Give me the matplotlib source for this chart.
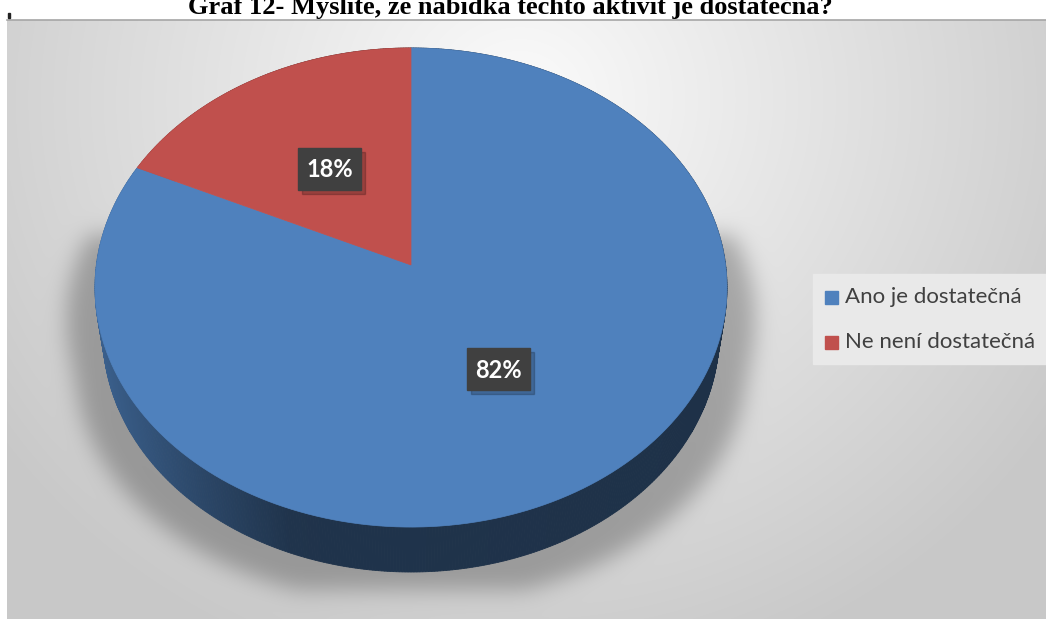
import numpy as np
import matplotlib
matplotlib.use("Agg")
import matplotlib.pyplot as plt
from matplotlib.patches import Polygon, Rectangle
from matplotlib.path import Path

# data
categories = ["Ano je dostatečná", "Ne není dostatečná"]
values = [82, 18]
colors = ["#4F81BD", "#C0504D"]
title = "Graf 12- Myslíte, že nabídka těchto aktivit je dostatečná?"

W, H = 1046, 619
fig = plt.figure(figsize=(W / 100, H / 100), dpi=100)
ax = fig.add_axes([0, 0, 1, 1])
ax.set_xlim(0, W)
ax.set_ylim(H, 0)
ax.axis("off")

# perspective projection of the pie disc (pixel space)
x0, y0 = 411, 265
f, L, th = 2196.0, 6.98, np.radians(49)
thick = 0.235


def proj(u, v, z=0.0):
    d = L + v * np.cos(th) - z * np.sin(th)
    return x0 + f * u / d, y0 - f * (v * np.sin(th) + z * np.cos(th)) / d


# background gradient + shadow
frame_top = 20
yy, xx = np.mgrid[0:H, 0:W] + 0.5
r = np.sqrt(((xx - 520) / 640) ** 2 + ((yy - 100) / 600) ** 2)
bg = 0.985 - 0.2 * np.clip(r, 0, 1)

t = np.linspace(0, 2 * np.pi, 361)
mask = np.zeros((H, W))
grid = np.column_stack([xx.ravel(), yy.ravel()])
for z in np.linspace(0, -thick, 6):
    px, py = proj(np.cos(t), np.sin(t), z)
    sx = x0 + (px - x0) * 1.09
    sy = py + 32
    m = Path(np.column_stack([sx, sy])).contains_points(grid).reshape(H, W)
    mask = np.maximum(mask, m)
mask[(yy < 235) | (yy > 590)] = 0


def gauss_mat(n, s):
    i = np.arange(n)
    g = np.exp(-((i[:, None] - i[None, :]) ** 2) / (2 * s * s))
    return g / g.sum(axis=1, keepdims=True)


shadow = gauss_mat(H, 11) @ mask @ gauss_mat(W, 11).T
bg = bg * (1 - 0.27 * shadow)
bg[:frame_top, :] = 1.0
bg[:, :7] = 1.0
img = np.dstack([bg, bg, bg])
ax.imshow(img, extent=(0, W, H, 0), interpolation="bilinear", zorder=0)
ax.plot([7, W], [frame_top, frame_top], color="#a6a6a6", lw=1.2, zorder=1)
ax.add_patch(Rectangle((8, 13), 2, 5, color="#222222", zorder=1))

# slice angles (start at 12 o'clock, clockwise)
fracs = np.array(values) / sum(values)
starts = 90 - 360 * np.concatenate([[0], np.cumsum(fracs)[:-1]])
ends = starts - 360 * fracs

# side wall
tt = np.linspace(0, 2 * np.pi, 721)
segs = []
for a0, a1 in zip(tt[:-1], tt[1:]):
    am = (a0 + a1) / 2
    deg = np.degrees(am)
    idx = 0
    for i in range(len(values)):
        lo, hi = ends[i], starts[i]
        if (deg - lo) % 360 <= hi - lo:
            idx = i
    ux, vy = np.cos([a0, a1]), np.sin([a0, a1])
    tx, ty = proj(ux, vy, 0)
    bx, by = proj(ux, vy, -thick)
    shade = np.interp(np.cos(am), [-1, -0.35, 1], [0.76, 0.40, 0.38])
    rgb = np.array(matplotlib.colors.to_rgb(colors[idx])) * shade
    segs.append((np.sin(am), [(tx[0], ty[0]), (tx[1], ty[1]), (bx[1], by[1]), (bx[0], by[0])], rgb))
segs.sort(key=lambda s: -s[0])
for _, poly, rgb in segs:
    ax.add_patch(Polygon(poly, closed=True, facecolor=rgb, edgecolor=rgb, lw=0.6, zorder=2))

# top face
for i in range(len(values)):
    ang = np.radians(np.linspace(starts[i], ends[i], 200))
    px, py = proj(np.cos(ang), np.sin(ang), 0)
    poly = [(x0, y0)] + list(zip(px, py))
    ax.add_patch(Polygon(poly, closed=True, facecolor=colors[i], edgecolor=colors[i], lw=0.5, zorder=3))

# data labels
for i in range(len(values)):
    mid = np.radians((starts[i] + ends[i]) / 2)
    lx, ly = proj(0.5 * np.cos(mid), 0.5 * np.sin(mid), 0)
    bw, bh = 63, 42
    ax.add_patch(Rectangle((lx - bw / 2 + 4, ly - bh / 2 + 4), bw, bh, color="black", alpha=0.2, zorder=4))
    ax.add_patch(Rectangle((lx - bw / 2, ly - bh / 2), bw, bh, color="#404040", zorder=5))
    ax.text(lx, ly + 1, f"{values[i]}%", color="white", fontsize=17, fontweight="bold",
            family="Lato", ha="center", va="center", zorder=6)

# legend
ax.add_patch(Rectangle((813, 274), 233, 90, color="#e9e9e9", zorder=4))
for i, name in enumerate(categories):
    cy = 297 + 45 * i
    ax.add_patch(Rectangle((825, cy - 6.5), 13, 13, color=colors[i], zorder=5))
    ax.text(845, cy, name, color="#404040", fontsize=16, family="Lato",
            ha="left", va="center", zorder=5)

# title (cut by top edge)
ax.text(510, 14, title, fontsize=19, fontweight="bold", family="Liberation Serif",
        ha="center", va="baseline", color="black", zorder=6)

fig.savefig("out.png", dpi=100)
